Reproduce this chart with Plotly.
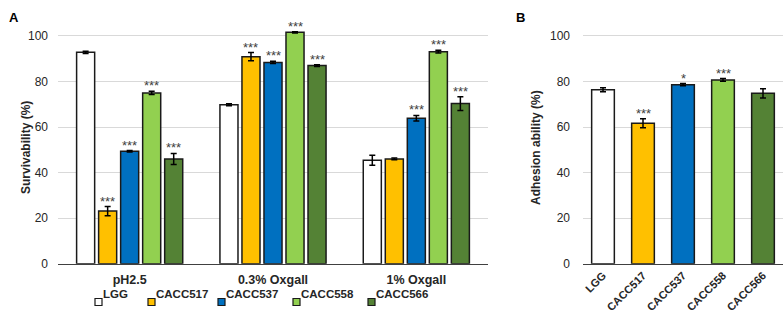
import plotly.graph_objects as go

# ---- data ----
conditions = ["pH2.5", "0.3% Oxgall", "1% Oxgall"]
strains = ["LGG", "CACC517", "CACC537", "CACC558", "CACC566"]
colors = ["#FFFFFF", "#FFC000", "#0070C0", "#92D050", "#548235"]

# survivability (%) per strain across conditions
surv_LGG = [92.8, 69.8, 45.4]
surv_517 = [23.1, 90.9, 46.0]
surv_537 = [49.4, 88.4, 63.9]
surv_558 = [75.0, 101.6, 93.1]
surv_566 = [46.0, 87.0, 70.3]
surv_vals = [surv_LGG, surv_517, surv_537, surv_558, surv_566]

err_LGG = [0.5, 0.4, 2.2]
err_517 = [2.0, 1.8, 0.4]
err_537 = [0.3, 0.5, 1.2]
err_558 = [0.7, 0.3, 0.6]
err_566 = [2.4, 0.4, 3.0]
surv_errs = [err_LGG, err_517, err_537, err_558, err_566]

sig_LGG = ["", "", ""]
sig_517 = ["***", "***", ""]
sig_537 = ["***", "***", "***"]
sig_558 = ["***", "***", "***"]
sig_566 = ["***", "***", "***"]
surv_sigs = [sig_LGG, sig_517, sig_537, sig_558, sig_566]

# adhesion ability (%)
adh_vals = [76.4, 61.7, 78.6, 80.7, 74.8]
adh_errs = [0.9, 2.0, 0.5, 0.6, 2.0]
adh_sigs = ["", "***", "*", "***", ""]

y_ticks = [0, 20, 40, 60, 80, 100]

# ---- layout constants ----
W, H = 784, 316
FONT = "Liberation Sans, Arial, sans-serif"
BARLINE = dict(color="#1a1a1a", width=1.5)
ERR = dict(type="data", thickness=1.5, width=3, color="#000000")
BARGAP = 0.232
BARGROUPGAP = 0.18
slot = (1 - BARGAP) / len(strains)

fig = go.Figure()

for j, s in enumerate(strains):
    fig.add_trace(go.Bar(
        x=conditions, y=surv_vals[j], name=s,
        marker=dict(color=colors[j], line=BARLINE),
        error_y=dict(array=surv_errs[j], **ERR),
        xaxis="x", yaxis="y", showlegend=False,
    ))

fig.add_trace(go.Bar(
    x=strains, y=adh_vals, width=0.567,
    marker=dict(color=colors, line=BARLINE),
    error_y=dict(array=adh_errs, **ERR),
    xaxis="x2", yaxis="y2", showlegend=False,
))

annotations = []
# significance stars (left)
for j in range(len(strains)):
    for i in range(len(conditions)):
        if surv_sigs[j][i]:
            annotations.append(dict(
                x=i + (j - (len(strains) - 1) / 2) * slot,
                y=surv_vals[j][i] + surv_errs[j][i],
                xref="x", yref="y", text=surv_sigs[j][i], showarrow=False,
                yanchor="bottom", yshift=-4,
                font=dict(family=FONT, size=13, color="#404040")))
# significance stars (right)
for k in range(len(strains)):
    if adh_sigs[k]:
        annotations.append(dict(
            x=k, y=adh_vals[k] + adh_errs[k], xref="x2", yref="y2",
            text=adh_sigs[k], showarrow=False, yanchor="bottom", yshift=-4,
            font=dict(family=FONT, size=13, color="#404040")))

# axis titles and panel letters
annotations += [
    dict(x=17 / W, y=1 - 148 / H, xref="paper", yref="paper", text="<b>Survivability (%)</b>",
         textangle=-90, showarrow=False, font=dict(family=FONT, size=12, color="#262626")),
    dict(x=545 / W, y=1 - 148 / H, xref="paper", yref="paper", text="<b>Adhesion ability (%)</b>",
         textangle=-90, showarrow=False, font=dict(family=FONT, size=12, color="#262626")),
    dict(x=7 / W, y=1 - 8 / H, xref="paper", yref="paper", text="<b>A</b>",
         showarrow=False, font=dict(family=FONT, size=13, color="#000")),
    dict(x=520 / W, y=1 - 8 / H, xref="paper", yref="paper", text="<b>B</b>",
         showarrow=False, font=dict(family=FONT, size=13, color="#000")),
]

# custom legend
legend_x = [95, 148, 218, 293, 368]
legend_y = 302
shapes = []
for j, s in enumerate(strains):
    x0 = legend_x[j]
    shapes.append(dict(type="rect", xref="paper", yref="paper",
                       x0=x0 / W, x1=(x0 + 7) / W,
                       y0=1 - (legend_y + 3.5) / H, y1=1 - (legend_y - 3.5) / H,
                       fillcolor=colors[j], line=dict(color="#1a1a1a", width=1.2)))
    annotations.append(dict(x=(x0 + 6) / W, y=1 - legend_y / H, xref="paper", yref="paper",
                            text="<b>" + s + "</b>", showarrow=False, xanchor="left",
                            font=dict(family=FONT, size=11.5, color="#262626")))

tickfont = dict(family=FONT, size=12, color="#262626")
ydom = [(H - 263.7) / H, (H - 1.8) / H]

fig.update_layout(
    width=W, height=H, margin=dict(l=0, r=0, t=0, b=0, autoexpand=False),
    paper_bgcolor="white", plot_bgcolor="white",
    barmode="group", bargap=BARGAP, bargroupgap=BARGROUPGAP,
    font=dict(family=FONT),
    xaxis=dict(domain=[58 / W, 488 / W], anchor="y", showline=True, linecolor="#404040",
               linewidth=1.2, ticks="", tickfont=dict(family=FONT, size=12.5, color="#262626"),
               tickprefix="<b>", ticksuffix="</b>", showgrid=False, ticklabelstandoff=4,
               automargin=False),
    yaxis=dict(domain=ydom, anchor="x", range=[0, 115], tickvals=y_ticks,
               showgrid=True, gridcolor="#d9d9d9", gridwidth=1, zeroline=False,
               ticks="", tickfont=tickfont, tickprefix="<b>", ticksuffix="</b>",
               ticklabelstandoff=9, automargin=False),
    xaxis2=dict(domain=[583 / W, 783 / W], anchor="y2", showline=True, linecolor="#404040",
                linewidth=1.2, ticks="", tickangle=-45,
                tickfont=dict(family=FONT, size=11, color="#262626"),
                tickprefix="<b>", ticksuffix="</b>", showgrid=False, automargin=False),
    yaxis2=dict(domain=ydom, anchor="x2", range=[0, 115], tickvals=y_ticks,
                showgrid=True, gridcolor="#d9d9d9", gridwidth=1, zeroline=False,
                ticks="", tickfont=tickfont, tickprefix="<b>", ticksuffix="</b>",
                ticklabelstandoff=12, automargin=False),
    annotations=annotations, shapes=shapes,
)

fig.write_html("out.html", config={"displayModeBar": False},
               post_script="document.body.style.margin='0';document.body.style.overflow='hidden';")
